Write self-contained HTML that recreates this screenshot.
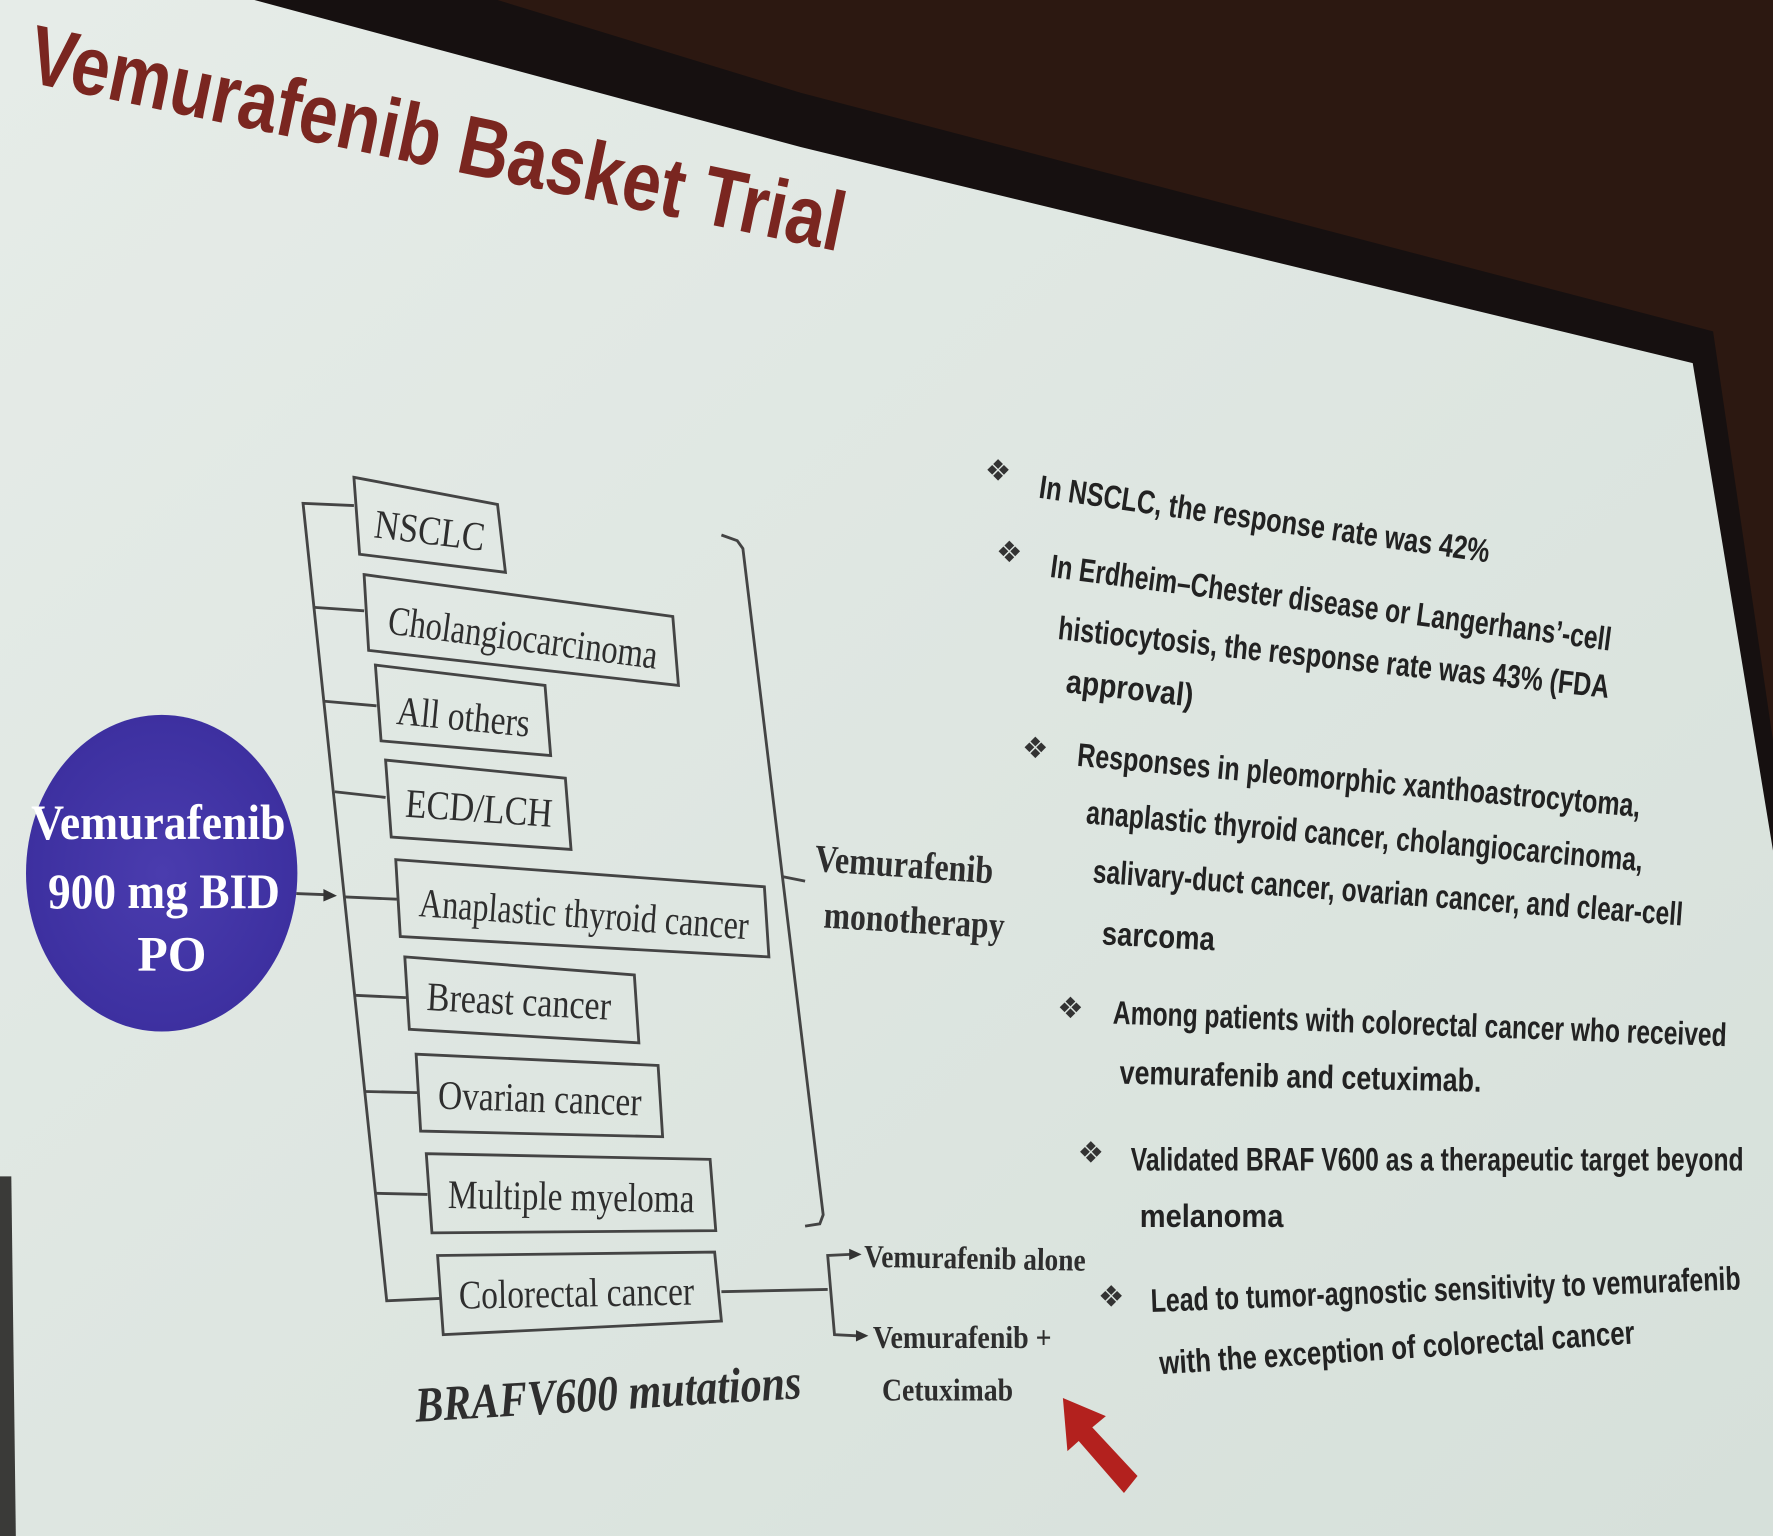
<!DOCTYPE html>
<html><head><meta charset="utf-8"><style>
html,body{margin:0;padding:0;background:#2a1610;}
svg{display:block}
.s{font-family:"Liberation Serif",serif;fill:#2e2e2e}
.b{font-family:"Liberation Sans",sans-serif;fill:#222;font-weight:bold}
.bl{font-family:"DejaVu Sans",sans-serif;fill:#333}
</style></head><body>
<svg width="1773" height="1536" viewBox="0 0 1568 1358" preserveAspectRatio="none" xmlns="http://www.w3.org/2000/svg">
<defs>
<linearGradient id="bg" x1="0" y1="0" x2="1" y2="1">
<stop offset="0" stop-color="#e6ece8"/><stop offset="1" stop-color="#d6e0da"/>
</linearGradient>
<radialGradient id="ct" cx="0.5" cy="0.5" r="0.5"><stop offset="0" stop-color="#4a3cae"/><stop offset="1" stop-color="#3d30a0"/></radialGradient>
</defs>
<rect width="1568" height="1358" fill="#2c1811"/>
<polygon points="440,0 708,82 1515,293 1568,655 1568,1358 0,1358 0,0" fill="#161010"/>
<polygon points="0,0 225,0 708,130 1497,321 1568,752 1568,1358 0,1358" fill="url(#bg)"/>
<polygon points="0,1040 10,1040 14,1358 0,1358" fill="#3a3a38"/>

<text class="b" x="22" y="72" font-size="74" style="fill:#7a2620" transform="rotate(11.8 22 72)" textLength="735" lengthAdjust="spacingAndGlyphs">Vemurafenib Basket Trial</text>

<g fill="none" stroke="#444" stroke-width="2.5">
<polyline points="313,447 268,445 342,1150 389,1148"/>
<line x1="278" y1="537" x2="322" y2="540"/>
<line x1="287" y1="620" x2="333" y2="624"/>
<line x1="296" y1="700" x2="341" y2="705"/>
<line x1="305" y1="793" x2="351" y2="795"/>
<line x1="314" y1="880" x2="359" y2="882"/>
<line x1="323" y1="965" x2="369" y2="966"/>
<line x1="332" y1="1055" x2="378" y2="1056"/>
<polygon points="313,422 440,446 447,506 318,490"/>
<polygon points="322,508 595,545 600,606 326,575"/>
<polygon points="332,588 482,606 487,668 337,655"/>
<polygon points="341,672 500,688 505,751 346,740"/>
<polygon points="350,760 676,784 680,846 354,828"/>
<polygon points="358,846 561,862 565,922 362,910"/>
<polygon points="368,932 582,942 586,1005 372,1000"/>
<polygon points="377,1020 628,1025 633,1088 382,1090"/>
<polygon points="387,1110 632,1107 638,1168 392,1180"/>
<polyline points="638,473 652,478 657,485 728,1074 725,1082 712,1084"/>
<line x1="692" y1="775" x2="712" y2="779"/>
<line x1="638" y1="1142" x2="732" y2="1140"/>
<polyline points="752,1109 732,1110 738,1180 758,1181"/>
<line x1="262" y1="790" x2="288" y2="791"/>
</g>
<g fill="#333">
<polygon points="298,792 286,786 286,797"/>
<polygon points="762,1109 751,1104 751,1114"/>
<polygon points="768,1181 757,1176 757,1186"/>
</g>

<ellipse cx="143" cy="772" rx="120" ry="140" fill="url(#ct)"/>
<g font-family="Liberation Serif,serif" font-weight="bold" fill="#fff" font-size="44" text-anchor="middle">
<text x="140" y="742" textLength="225" lengthAdjust="spacingAndGlyphs">Vemurafenib</text>
<text x="145" y="803" textLength="205" lengthAdjust="spacingAndGlyphs">900 mg BID</text>
<text x="152" y="858">PO</text>
</g>

<g class="s" font-size="36">
<text x="330" y="475" transform="rotate(7 330 475)" textLength="98" lengthAdjust="spacingAndGlyphs">NSCLC</text>
<text x="342" y="560" transform="rotate(7.5 342 560)" textLength="240" lengthAdjust="spacingAndGlyphs">Cholangiocarcinoma</text>
<text x="350" y="640" transform="rotate(5.5 350 640)" textLength="118" lengthAdjust="spacingAndGlyphs">All others</text>
<text x="358" y="722" transform="rotate(4 358 722)" textLength="130" lengthAdjust="spacingAndGlyphs">ECD/LCH</text>
<text x="370" y="810" transform="rotate(4 370 810)" textLength="292" lengthAdjust="spacingAndGlyphs">Anaplastic thyroid cancer</text>
<text x="377" y="893" transform="rotate(3 377 893)" textLength="163" lengthAdjust="spacingAndGlyphs">Breast cancer</text>
<text x="387" y="980" transform="rotate(2 387 980)" textLength="180" lengthAdjust="spacingAndGlyphs">Ovarian cancer</text>
<text x="396" y="1068" transform="rotate(1 396 1068)" textLength="218" lengthAdjust="spacingAndGlyphs">Multiple myeloma</text>
<text x="406" y="1157" transform="rotate(-1 406 1157)" textLength="208" lengthAdjust="spacingAndGlyphs">Colorectal cancer</text>
</g>
<g class="s" font-size="34" font-weight="bold">
<text x="720" y="770" transform="rotate(4 720 770)" textLength="158" lengthAdjust="spacingAndGlyphs">Vemurafenib</text>
<text x="728" y="820" transform="rotate(3.5 728 820)" textLength="160" lengthAdjust="spacingAndGlyphs">monotherapy</text>
</g>
<g class="s" font-size="28" font-weight="bold">
<text x="764" y="1120" transform="rotate(1 764 1120)" textLength="196" lengthAdjust="spacingAndGlyphs">Vemurafenib alone</text>
<text x="772" y="1192" textLength="158" lengthAdjust="spacingAndGlyphs">Vemurafenib +</text>
<text x="780" y="1238" textLength="116" lengthAdjust="spacingAndGlyphs">Cetuximab</text>
</g>
<text class="s" x="368" y="1257" font-size="44" font-style="italic" font-weight="bold" transform="rotate(-3.5 368 1257)" textLength="342" lengthAdjust="spacingAndGlyphs">BRAFV600 mutations</text>

<polygon points="940,1236 978,1252 966,1262 1006,1305 994,1320 954,1274 944,1283" fill="#b3211e"/>

<g class="bl" font-size="26">
<text x="871" y="425">❖</text>
<text x="881" y="497">❖</text>
<text x="904" y="670">❖</text>
<text x="935" y="900">❖</text>
<text x="953" y="1028">❖</text>
<text x="971" y="1155">❖</text>
</g>
<g class="b" font-size="29">
<text x="918" y="440" transform="rotate(8.2 918 440)" textLength="402" lengthAdjust="spacingAndGlyphs">In NSCLC, the response rate was 42%</text>
<text x="928" y="510" transform="rotate(7.5 928 510)" textLength="500" lengthAdjust="spacingAndGlyphs">In Erdheim–Chester disease or Langerhans’-cell</text>
<text x="935" y="565" transform="rotate(6.1 935 565)" textLength="490" lengthAdjust="spacingAndGlyphs">histiocytosis, the response rate was 43% (FDA</text>
<text x="942" y="612" transform="rotate(6.5 942 612)" textLength="113" lengthAdjust="spacingAndGlyphs">approval)</text>
<text x="952" y="677" transform="rotate(5.2 952 677)" textLength="500" lengthAdjust="spacingAndGlyphs">Responses  in pleomorphic xanthoastrocytoma,</text>
<text x="960" y="728" transform="rotate(4.9 960 728)" textLength="494" lengthAdjust="spacingAndGlyphs">anaplastic thyroid cancer, cholangiocarcinoma,</text>
<text x="966" y="780" transform="rotate(4.2 966 780)" textLength="523" lengthAdjust="spacingAndGlyphs">salivary-duct cancer, ovarian cancer, and clear-cell</text>
<text x="974" y="835" transform="rotate(3 974 835)" textLength="100" lengthAdjust="spacingAndGlyphs">sarcoma</text>
<text x="984" y="905" transform="rotate(2.1 984 905)" textLength="543" lengthAdjust="spacingAndGlyphs">Among patients with colorectal cancer who received</text>
<text x="990" y="958" transform="rotate(1.3 990 958)" textLength="320" lengthAdjust="spacingAndGlyphs">vemurafenib and cetuximab.</text>
<text x="1000" y="1035" textLength="542" lengthAdjust="spacingAndGlyphs">Validated BRAF V600 as a therapeutic target beyond</text>
<text x="1008" y="1085" textLength="127" lengthAdjust="spacingAndGlyphs">melanoma</text>
<text x="1018" y="1160" transform="rotate(-2.2 1018 1160)" textLength="522" lengthAdjust="spacingAndGlyphs">Lead to tumor-agnostic sensitivity to vemurafenib</text>
<text x="1026" y="1215" transform="rotate(-3.7 1026 1215)" textLength="421" lengthAdjust="spacingAndGlyphs">with the exception of colorectal cancer</text>
</g>
</svg>
</body></html>
